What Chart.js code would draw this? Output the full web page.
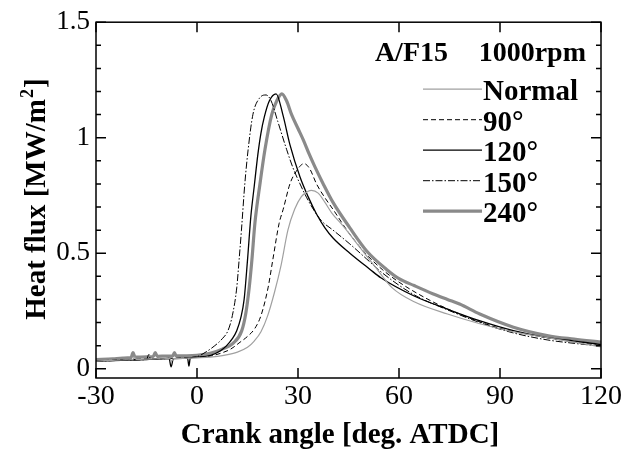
<!DOCTYPE html>
<html>
<head>
<meta charset="utf-8">
<script src="https://cdn.jsdelivr.net/npm/chart.js@4"></script>
<style>
html, body { margin: 0; padding: 0; background: #fff; }
</style>
</head>
<body>
<canvas id="chart" width="634" height="452"></canvas>
<script>
// labels
const seriesNames = ["Normal", "90°", "120°", "150°", "240°"];
const conditionLeft = "A/F15";
const conditionRight = "1000rpm";
const xTitle = "Crank angle [deg. ATDC]";
const xTicks = [-30, 0, 30, 60, 90, 120];
const yTicks = [0, 0.5, 1, 1.5];

// crank angle [deg] and heat flux [MW/m2]
const normalAngle = [-30,-26,-22,-19,-18.6,-18,-14,-10,-8,-7.6,-7,-4,-2,0,4,8,12,15,17,19,21,23,25,27,29,31,33,34,36,38,40,43.5,48.5,53,58,64.5,74.4,84,94,104,112,120];
const normalFlux = [0.033,0.036,0.038,0.04,0.05,0.04,0.042,0.043,0.044,0.032,0.044,0.045,0.046,0.047,0.05,0.058,0.072,0.093,0.12,0.16,0.23,0.33,0.45,0.6,0.69,0.745,0.768,0.772,0.76,0.72,0.675,0.616,0.523,0.44,0.35,0.29,0.237,0.195,0.16,0.135,0.115,0.095];

const deg90Angle = [-30,-25,-20,-15,-10,-6,-3,0,4,8,10,12.8,15,17.2,19,21.1,22.5,24.4,25.6,27.6,29.5,31.8,33.5,35.5,38,40.4,45,50,55,60,70,80,90,100,110,120];
const deg90Flux = [0.034,0.037,0.04,0.042,0.044,0.046,0.048,0.05,0.055,0.072,0.085,0.115,0.14,0.175,0.23,0.35,0.47,0.63,0.69,0.8,0.855,0.888,0.865,0.8,0.74,0.69,0.59,0.5,0.43,0.375,0.29,0.225,0.175,0.145,0.12,0.1];

const deg120Angle = [-30,-25,-20,-15,-10,-8.3,-7.7,-7,-4,-2.8,-2.4,-2,0,4,7,8.8,10.5,11.8,13,14,15,16,17,18.1,19,20,21.5,23.5,25.5,27.6,30.6,33,35.5,38,40.4,45.4,51.4,54.6,64.5,74.4,84.1,94,104,112,120];
const deg120Flux = [0.033,0.035,0.038,0.04,0.043,0.045,0.008,0.044,0.045,0.046,0.012,0.046,0.05,0.058,0.078,0.1,0.13,0.165,0.22,0.3,0.47,0.66,0.79,0.93,1.02,1.09,1.16,1.19,1.1,0.97,0.83,0.745,0.67,0.61,0.566,0.5,0.43,0.394,0.315,0.258,0.207,0.165,0.135,0.12,0.105];

const deg150Angle = [-30,-25,-20,-15,-14.3,-13.8,-10,-5,-2,0,1.8,5.3,7.5,9.2,10.5,11.8,12.5,13.2,14.2,15.2,16.6,18.5,20.5,22,24,26.6,28.5,30.6,32.6,35,37,40.4,45.4,50.4,54.6,64.5,74.4,84,94,104,112,120];
const deg150Flux = [0.033,0.035,0.038,0.04,0.062,0.04,0.043,0.045,0.048,0.052,0.065,0.1,0.13,0.165,0.23,0.35,0.47,0.6,0.8,0.95,1.1,1.17,1.185,1.16,1.07,0.95,0.87,0.8,0.74,0.68,0.64,0.6,0.54,0.475,0.42,0.32,0.255,0.2,0.155,0.125,0.11,0.098];

const deg240Angle = [-30,-25,-22,-19.6,-19,-18.4,-15,-13,-12.4,-11.8,-9,-7.2,-6.7,-6.2,-3,0,3.9,7.5,10.7,13.3,14.5,15.5,16.3,17.2,18.7,20.2,22.2,23.7,25.2,26.6,28.1,30,31.6,33.3,35,37.5,40.4,45.4,50.4,56.3,60,64.5,70,74.4,78,84,94,104,112,120];
const deg240Flux = [0.04,0.043,0.046,0.048,0.07,0.05,0.052,0.053,0.07,0.054,0.055,0.056,0.07,0.056,0.056,0.058,0.067,0.085,0.11,0.165,0.24,0.35,0.47,0.63,0.8,0.95,1.1,1.16,1.19,1.16,1.1,1.04,0.99,0.93,0.875,0.8,0.72,0.61,0.51,0.43,0.39,0.36,0.325,0.3,0.28,0.237,0.18,0.144,0.128,0.115];

function pts(angle, flux) {
    return angle.map((a, i) => ({ x: a, y: flux[i] }));
}

const styles = [
    { color: "#a0a0a0", width: 1.2, dash: [] },
    { color: "#000", width: 1, dash: [5, 3] },
    { color: "#000", width: 1.3, dash: [] },
    { color: "#000", width: 1, dash: [7, 2, 1.5, 2] },
    { color: "#8a8a8a", width: 3.2, dash: [] },
];
const allData = [
    pts(normalAngle, normalFlux),
    pts(deg90Angle, deg90Flux),
    pts(deg120Angle, deg120Flux),
    pts(deg150Angle, deg150Flux),
    pts(deg240Angle, deg240Flux),
];

const serif = '"Liberation Serif", "Times New Roman", serif';

// ticks inside the frame, frame, legend, titles
const decor = {
    id: "decor",
    afterDraw(chart) {
        const ctx = chart.ctx;
        const a = chart.chartArea;
        const xs = chart.scales.x, ys = chart.scales.y;
        ctx.save();
        ctx.strokeStyle = "#000";
        ctx.lineWidth = 1.5;
        ctx.setLineDash([]);
        ctx.beginPath();
        xTicks.forEach((v) => {
            const px = xs.getPixelForValue(v);
            ctx.moveTo(px, a.bottom); ctx.lineTo(px, a.bottom - 10);
            ctx.moveTo(px, a.top); ctx.lineTo(px, a.top + 10);
        });
        for (let k = 0; k <= 15; k++) {
            const py = ys.getPixelForValue(k / 10);
            const len = k % 5 === 0 ? 10 : 5;
            ctx.moveTo(a.left, py); ctx.lineTo(a.left + len, py);
            ctx.moveTo(a.right, py); ctx.lineTo(a.right - len, py);
        }
        ctx.stroke();
        ctx.strokeRect(a.left, a.top, a.right - a.left, a.bottom - a.top);

        // condition text
        ctx.fillStyle = "#000";
        ctx.font = "bold 28px " + serif;
        ctx.textAlign = "right";
        ctx.textBaseline = "alphabetic";
        ctx.fillText(conditionLeft, a.right - 153, a.top + 39);
        ctx.fillText(conditionRight, a.right - 15, a.top + 39);

        // legend
        ctx.font = "bold 29px " + serif;
        ctx.textAlign = "left";
        seriesNames.forEach((name, i) => {
            const ly = a.top + 67 + i * 30.5;
            const st = styles[i];
            ctx.strokeStyle = st.color;
            ctx.lineWidth = st.width;
            ctx.setLineDash(st.dash);
            ctx.beginPath();
            ctx.moveTo(a.right - 178, ly);
            ctx.lineTo(a.right - 119, ly);
            ctx.stroke();
            ctx.fillText(name, a.right - 118, ly + 11);
        });
        ctx.setLineDash([]);

        // x title
        ctx.font = "bold 29px " + serif;
        ctx.textAlign = "center";
        ctx.fillText(xTitle, 340, 443);

        // y title with superscript
        const p1 = "Heat flux [MW/m", p2 = "2", p3 = "]";
        ctx.font = "bold 29px " + serif;
        const w1 = ctx.measureText(p1).width, w3 = ctx.measureText(p3).width;
        ctx.font = "bold 18px " + serif;
        const w2 = ctx.measureText(p2).width;
        const total = w1 + w2 + w3;
        ctx.translate(45, (a.top + a.bottom) / 2);
        ctx.rotate(-Math.PI / 2);
        ctx.textAlign = "left";
        let sx = -total / 2;
        ctx.font = "bold 29px " + serif;
        ctx.fillText(p1, sx, 0);
        ctx.font = "bold 18px " + serif;
        ctx.fillText(p2, sx + w1 + 1, -12);
        ctx.font = "bold 29px " + serif;
        ctx.fillText(p3, sx + w1 + w2 + 2, 0);
        ctx.restore();
    },
};

new Chart(document.getElementById("chart"), {
    type: "line",
    data: {
        datasets: allData.map((d, i) => ({
            label: seriesNames[i],
            data: d,
            borderColor: styles[i].color,
            borderWidth: styles[i].width,
            borderDash: styles[i].dash,
            pointRadius: 0,
            fill: false,
            cubicInterpolationMode: "monotone",
        })),
    },
    options: {
        responsive: false,
        animation: false,
        devicePixelRatio: 1,
        layout: { padding: { top: 19, right: 33, left: 0, bottom: 0 } },
        plugins: { legend: { display: false }, tooltip: { enabled: false } },
        scales: {
            x: {
                type: "linear",
                min: -30,
                max: 120,
                afterBuildTicks: (s) => { s.ticks = xTicks.map((v) => ({ value: v })); },
                afterFit: (s) => { s.height = 74; },
                grid: { display: false, drawTicks: false },
                border: { display: false },
                ticks: { color: "#000", font: { family: serif, size: 28 }, padding: 2, maxRotation: 0, callback: (v) => String(v) },
            },
            y: {
                type: "linear",
                min: -0.04,
                max: 1.5,
                afterBuildTicks: (s) => { s.ticks = yTicks.map((v) => ({ value: v })); },
                afterFit: (s) => { s.width = 96; },
                grid: { display: false, drawTicks: false },
                border: { display: false },
                ticks: { color: "#000", font: { family: serif, size: 27 }, padding: 6, callback: (v) => String(v) },
            },
        },
    },
    plugins: [decor],
});
</script>
</body>
</html>
